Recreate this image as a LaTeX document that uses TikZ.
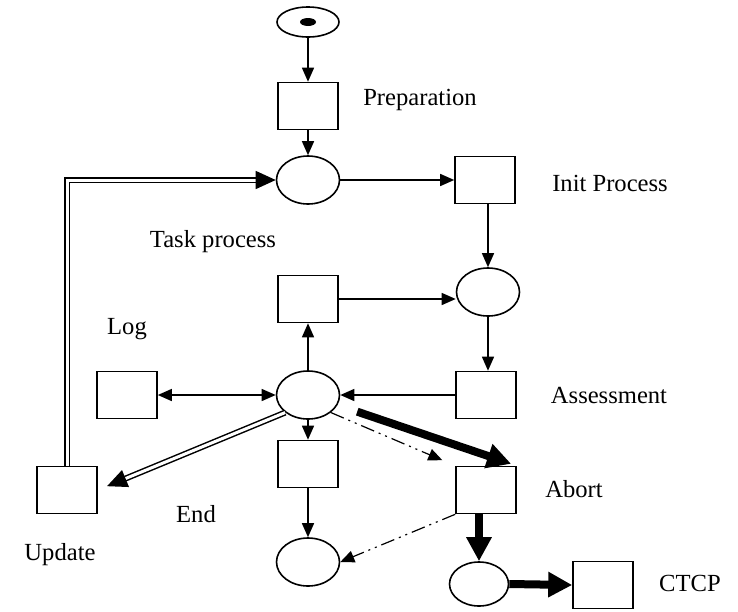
\documentclass[tikz,border=0pt]{standalone}
\usepackage{fontspec}
\setmainfont{Liberation Serif}
\usetikzlibrary{arrows.meta, shapes.geometric}

\begin{document}
\begin{tikzpicture}[
  x=0.5pt, y=-0.5pt,
  trans/.style={
    rectangle,
    draw,
    line width=0.8pt,
    minimum width=30pt,
    minimum height=23.5pt,
    inner sep=0pt
  },
  place/.style={
    ellipse,
    draw,
    line width=0.8pt,
    minimum width=31.5pt,
    minimum height=24pt,
    inner sep=0pt
  },
  lbl/.style={
    font=\fontsize{12.3}{14}\selectfont,
    inner sep=0pt
  },
  arrow/.style={
    -{Triangle[length=7pt,width=6pt]},
    line width=0.7pt
  },
  dblarrow/.style={
    double,
    double distance=1.5pt,
    line width=0.75pt,
    -{Triangle[length=10pt,width=9pt]}
  },
  heavy/.style={
    -{Triangle[length=12pt,width=12pt]},
    line width=4pt
  },
  dashdot/.style={
    -{Triangle[length=7pt,width=6pt]},
    line width=0.6pt,
    dash pattern=on 7pt off 2.5pt on 1pt off 2.5pt on 1pt off 2.5pt
  }
]
  \useasboundingbox (0,0) rectangle (738,611);

  % Define nodes
  \node[place, minimum width=31pt, minimum height=15pt] (start) at (308,22) {};
  \node[ellipse, fill, minimum width=8pt, minimum height=4pt, inner sep=0pt] (token) at (308,22) {};
  \node[trans] (prep) at (308,106) {};
  \node[place] (task) at (308,180) {};
  \node[trans] (init) at (485,180) {};
  \node[place] (rpl) at (488,292) {};
  \node[trans] (mid) at (308,299) {};
  \node[trans] (assess) at (486,395) {};
  \node[place] (cen) at (308,395) {};
  \node[trans] (log) at (127,395) {};
  \node[trans] (endt) at (308,464) {};
  \node[place] (fin) at (308,562) {};
  \node[trans] (abort) at (486,490) {};
  \node[trans] (upd) at (67,490) {};
  \node[place, minimum width=29.5pt, minimum height=22pt] (cin) at (479,584) {};
  \node[trans] (ctcp) at (603,585) {};

  % Labels
  \node[lbl] (lprep) at (420,100) {Preparation};
  \node[lbl] (linit) at (610,183) {Init Process};
  \node[lbl] (ltask) at (213,242) {Task process};
  \node[lbl] (llog) at (127,329) {Log};
  \node[lbl] (lassess) at (609,395) {Assessment};
  \node[lbl] (lend) at (196,514) {End};
  \node[lbl] (labort) at (574,489) {Abort};
  \node[lbl] (lupd) at (60,555) {Update};
  \node[lbl] (lctcp) at (690,583) {CTCP};

  % Connect nodes with arrows
  \draw[arrow] (start.south) -- (prep.north);
  \draw[arrow] (prep.south) -- (task.north);
  \draw[arrow] (task.east) -- (init.west);
  \draw[arrow] (init.south -| rpl.north) -- (rpl.north);
  \draw[arrow] (mid.east) -- (mid.east -| rpl.west);
  \draw[arrow] (rpl.south) -- (rpl.south |- assess.north);
  \draw[arrow] (assess.west) -- (cen.east);
  \draw[arrow] (cen.north) -- (mid.south);
  \draw[{Triangle[length=7pt,width=6pt]}-{Triangle[length=7pt,width=6pt]}, line width=0.7pt] (log.east) -- (cen.west);
  \draw[arrow] (cen.south) -- (endt.north);
  \draw[arrow] (endt.south) -- (fin.north);
  \draw[dblarrow] (upd.north) |- (task.west);
  \draw[dblarrow, shorten >=5pt] (cen.south west) -- (upd.east);
  \draw[heavy, shorten <=26pt, shorten >=3pt] (cen.center) -- (abort.north east);
  \draw[dashdot, shorten >=7pt] (cen.south east) -- (abort.north west);
  \draw[dashdot] (abort.south west) -- (fin.east);
  \draw[heavy] (abort.south -| cin.north) -- (cin.north);
  \draw[heavy] (cin.east) -- (ctcp.west);
\end{tikzpicture}
\end{document}
